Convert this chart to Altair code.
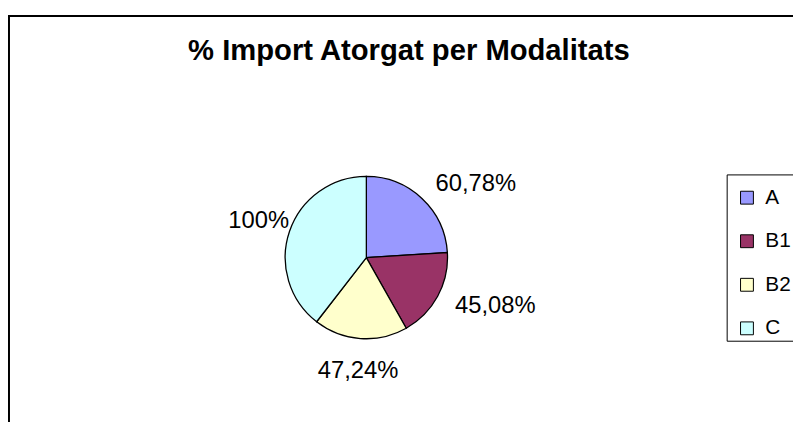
import altair as alt
import pandas as pd

categories = ["A", "B1", "B2", "C"]
values = [60.78, 45.08, 47.24, 100.0]
labels = ["60,78%", "45,08%", "47,24%", "100%"]
colors = ["#9999FF", "#993366", "#FFFFCC", "#CCFFFF"]
title = "% Import Atorgat per Modalitats"

df = pd.DataFrame({"cat": categories, "val": values, "lab": labels, "ord": list(range(len(categories)))})

FONT = "Liberation Sans"
cx, cy = 362, 250

pie = alt.Chart(df).mark_arc(radius=82, stroke="black", strokeWidth=1.3).encode(
    theta=alt.Theta("val:Q", stack=True),
    order=alt.Order("ord:Q"),
    color=alt.Color(
        "cat:N",
        scale=alt.Scale(domain=categories, range=colors),
        legend=alt.Legend(
            orient="none", legendX=736, legendY=179, title=None,
            symbolType="square", symbolSize=169, symbolStrokeColor="black",
            symbolStrokeWidth=1, symbolOpacity=1,
            labelFont=FONT, labelFontSize=21, labelColor="black",
            labelOffset=8, rowPadding=22, padding=0,
        ),
    ),
    x=alt.value(cx), y=alt.value(cy),
)

lbl = (
    alt.Chart(df)
    .transform_stack(stack="val", groupby=[], as_=["s0", "s1"], sort=[alt.SortField("ord")])
    .transform_joinaggregate(total="sum(val)")
    .transform_calculate(mid="(datum.s0 + datum.s1) / 2")
)
lbl_enc = dict(
    theta=alt.Theta("mid:Q", stack=None),
    text=alt.Text("lab:N"),
    x=alt.value(cx), y=alt.value(cy),
)
right = lbl.transform_filter("datum.mid < datum.total / 2").mark_text(
    radius=102, align="left", font=FONT, fontSize=24, color="black"
).encode(**lbl_enc)
left = lbl.transform_filter("datum.mid >= datum.total / 2").mark_text(
    radius=115, align="center", font=FONT, fontSize=24, color="black"
).encode(**lbl_enc)

one = alt.Data(values=[{"t": title}])

frame = alt.Chart(one).mark_rect(fillOpacity=0, stroke="black", strokeWidth=2).encode(
    x=alt.value(1), x2=alt.value(1200), y=alt.value(6), y2=alt.value(1200)
)
legbox = alt.Chart(one).mark_rect(fill="white", stroke="black", strokeWidth=1).encode(
    x=alt.value(726.5), x2=alt.value(1200), y=alt.value(166.5), y2=alt.value(334.5)
)
ttl = alt.Chart(one).mark_text(font=FONT, fontSize=29.5, fontWeight="bold", align="center",
                               baseline="alphabetic", color="black").encode(
    text="t:N", x=alt.value(405), y=alt.value(50)
)

chart = alt.layer(frame, legbox, pie, right, left, ttl).properties(
    width=793, height=414, autosize="none", padding=0
).configure_view(stroke=None)

chart.save("out.html", embed_options={"renderer": "svg", "actions": False})
